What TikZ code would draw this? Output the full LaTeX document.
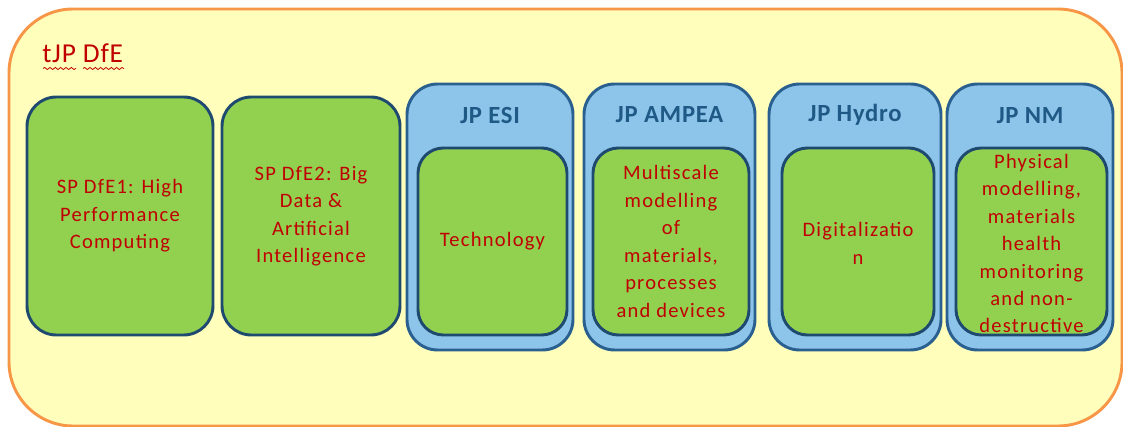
\documentclass[tikz,border=0pt]{standalone}
\usepackage{fontspec}
\setmainfont{Carlito}
\newfontfamily\bodyfont[LetterSpace=6]{Carlito}
\newfontfamily\headfont[LetterSpace=3]{Carlito}
\newfontfamily\labelfont[LetterSpace=3]{Carlito}
\usetikzlibrary{fit,decorations.pathmorphing}
\definecolor{orangeB}{HTML}{F79646}
\definecolor{yellowF}{HTML}{FFFFBB}
\definecolor{greenF}{HTML}{92D050}
\definecolor{greenB}{HTML}{1F4A70}
\definecolor{blueF}{HTML}{8DC4EA}
\definecolor{blueB}{HTML}{2A6090}
\definecolor{titleC}{HTML}{1F5A86}
\definecolor{redT}{HTML}{C00000}
\begin{document}
\begin{tikzpicture}[x=0.75pt,y=-0.75pt,
  outerbox/.style={draw=orangeB,fill=yellowF,line width=2.2pt,rounded corners=48pt,inner sep=0pt},
  greenbox/.style={draw=greenB,fill=greenF,line width=2.2pt,rounded corners=22pt,inner sep=0pt},
  innerbox/.style={draw=greenB,fill=greenF,line width=2.2pt,rounded corners=19pt,inner sep=0pt},
  bluebox/.style={draw=blueB,fill=blueF,line width=2.2pt,rounded corners=23pt,inner sep=0pt},
  bodytext/.style={text=redT,align=center,inner sep=0pt,font={\bodyfont\fontsize{15.4}{20.6}\selectfont}},
  jptitle/.style={text=titleC,inner sep=0pt,font={\headfont\bfseries\fontsize{18.5}{20}\selectfont}},
  wavy/.style={draw=redT,line width=0.6pt,decorate,decoration={snake,amplitude=0.8pt,segment length=4pt}}
]
\useasboundingbox (0,0) rectangle (1123,427);
% outer container
\node[outerbox,fit={(9,9) (1122,426)}] (outer) {};
\node[text=redT,inner sep=0pt,anchor=base west,font={\labelfont\fontsize{20.5}{22}\selectfont}] (tjp) at (42,63) {tJP DfE};
\draw[wavy] (43,68.5) -- (76,68.5);
\draw[wavy] (83,68.5) -- (124,68.5);

% SP boxes
\node[greenbox,fit={(27,97) (213,335)}] (sp1) {};
\node[bodytext] (sp1t) at (sp1.center) {SP DfE1: High\\Performance\\Computing};
\node[greenbox,fit={(222,97) (400,335)}] (sp2) {};
\node[bodytext] (sp2t) at (sp2.center) {SP DfE2: Big\\Data \&\\Artificial\\Intelligence};

% JP ESI
\node[bluebox,fit={(407,84) (573,350)}] (esi) {};
\node[jptitle] (esih) at (490,115) {JP ESI};
\node[innerbox,fit={(418,148) (567,335)}] (esiin) {};
\node[bodytext] (esit) at (esiin.center) {Technology};

% JP AMPEA
\node[bluebox,fit={(584,84) (755,350)}] (ampea) {};
\node[jptitle] (ampeah) at (669.5,115) {JP AMPEA};
\node[innerbox,fit={(593,148) (749,335)}] (ampeain) {};
\node[bodytext] (ampeat) at (ampeain.center) {Multiscale\\modelling\\of\\materials,\\processes\\and devices};

% JP Hydro
\node[bluebox,fit={(769,84) (941,350)}] (hydro) {};
\node[jptitle] (hydroh) at (855,115) {JP Hydro};
\node[innerbox,fit={(782,148) (934,335)}] (hydroin) {};
\node[bodytext] (hydrot) at ([yshift=-1.5pt]hydroin.center) {Digitalizatio\\n};

% JP NM
\node[bluebox,fit={(947,84) (1113,350)}] (nm) {};
\node[jptitle] (nmh) at (1030,116) {JP NM};
\node[innerbox,fit={(956,148) (1107,335)}] (nmin) {};
\node[bodytext] (nmt) at ([yshift=-1.5pt]nmin.center) {Physical\\modelling,\\materials\\health\\monitoring\\and non-\\destructive};
\end{tikzpicture}
\end{document}
